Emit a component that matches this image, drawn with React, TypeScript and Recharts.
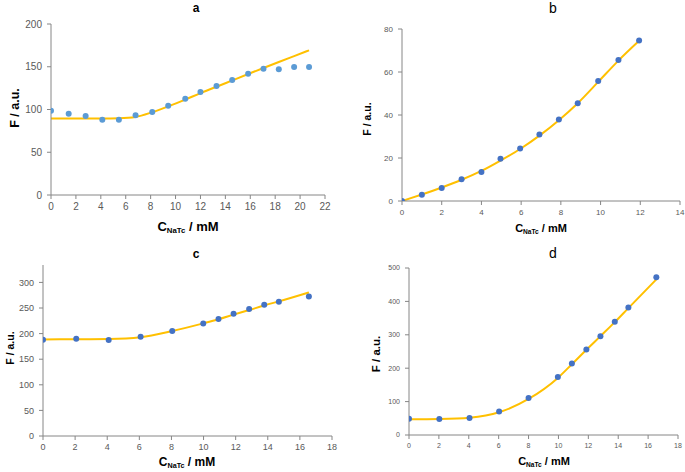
import React from "react";
import { ComposedChart, Scatter, Line, XAxis, YAxis } from "recharts";

// panel a
const aX = [0, 1.42, 2.78, 4.12, 5.45, 6.79, 8.13, 9.41, 10.78, 12.0, 13.29, 14.55, 15.83, 17.06, 18.29, 19.52, 20.72];
const aPoints = [98.6, 95.1, 92.4, 88.1, 88.1, 93.2, 97.1, 104.5, 112.7, 120.5, 127.5, 134.5, 141.9, 147.8, 147.0, 149.7, 149.7];
const aFit = [89.5, 89.5, 89.5, 89.5, 89.8, 91.3, 96.8, 103.6, 111.6, 119.2, 126.6, 134.0, 141.5, 148.6, 155.6, 162.5, 169.2];
const aXTicks = [0, 2, 4, 6, 8, 10, 12, 14, 16, 18, 20, 22];
const aYTicks = [0, 50, 100, 150, 200];

// panel b
const bX = [0, 1.0, 2.0, 3.0, 4.0, 4.96, 5.95, 6.92, 7.9, 8.85, 9.88, 10.9, 11.94];
const bPoints = [0, 2.95, 6.06, 10.1, 13.5, 19.7, 24.4, 30.9, 37.9, 45.5, 55.8, 65.6, 74.6];
const bFit = [0, 3.0, 6.3, 9.9, 14.0, 18.8, 24.2, 30.4, 37.6, 45.5, 55.4, 65.3, 74.5];
const bXTicks = [0, 2, 4, 6, 8, 10, 12, 14];
const bYTicks = [0, 20, 40, 60, 80];

// panel c
const cX = [0, 2.07, 4.09, 6.08, 8.05, 9.98, 10.93, 11.87, 12.84, 13.78, 14.69, 16.56];
const cPoints = [188.1, 190.0, 187.4, 193.9, 205.0, 219.9, 228.4, 238.8, 247.9, 256.4, 262.2, 272.7];
const cFit = [188.5, 189.0, 189.5, 193.0, 205.0, 220.0, 228.0, 237.0, 246.0, 255.0, 263.0, 280.5];
const cXTicks = [0, 2, 4, 6, 8, 10, 12, 14, 16, 18];
const cYTicks = [0, 50, 100, 150, 200, 250, 300];

// panel d
const dX = [0, 2.03, 4.05, 6.03, 8.0, 9.96, 10.9, 11.87, 12.81, 13.77, 14.68, 16.55];
const dPoints = [49, 48, 51, 70, 111, 174, 214, 256, 296, 339, 382, 472];
const dFit = [47, 48, 52, 68, 108, 171, 212, 255, 296, 338, 380, 466];
const dXTicks = [0, 2, 4, 6, 8, 10, 12, 14, 16, 18];
const dYTicks = [0, 100, 200, 300, 400, 500];

const FONT = "'Liberation Sans', Arial, sans-serif";
const AXIS = "#868686";
const TICK = "#595959";
const FIT = "#FFC000";

const zip = (xs: number[], ys: number[]) => xs.map((x, i) => ({ x, y: ys[i] }));

interface PanelProps {
  left: number;
  top: number;
  width: number;
  height: number;
  margin: { top: number; right: number; bottom: number };
  yWidth: number;
  xs: number[];
  points: number[];
  fit: number[];
  xTicks: number[];
  yTicks: number[];
  yMax: number;
  tickFont: number;
  dot: string;
}

function Panel(p: PanelProps) {
  const tick = { fill: TICK, fontSize: p.tickFont, fontFamily: FONT };
  return (
    <div style={{ position: "absolute", left: p.left, top: p.top }}>
      <ComposedChart
        width={p.width}
        height={p.height}
        margin={{ top: p.margin.top, right: p.margin.right, bottom: p.margin.bottom, left: 0 }}
      >
        <XAxis
          type="number"
          dataKey="x"
          domain={[p.xTicks[0], p.xTicks[p.xTicks.length - 1]]}
          ticks={p.xTicks}
          interval={0}
          height={20}
          stroke={AXIS}
          tickSize={4}
          tickMargin={4}
          tick={tick}
          allowDataOverflow
        />
        <YAxis
          type="number"
          dataKey="y"
          domain={[0, p.yMax]}
          ticks={p.yTicks}
          interval={0}
          width={p.yWidth}
          stroke={AXIS}
          tickSize={4}
          tickMargin={5}
          tick={tick}
          allowDataOverflow
        />
        <Line
          data={zip(p.xs, p.fit)}
          dataKey="y"
          type="monotone"
          stroke={FIT}
          strokeWidth={2}
          dot={false}
          activeDot={false}
          isAnimationActive={false}
        />
        <Scatter
          data={zip(p.xs, p.points)}
          dataKey="y"
          fill={p.dot}
          isAnimationActive={false}
          shape={(s: any) => <circle cx={s.cx} cy={s.cy} r={3} fill={p.dot} />}
        />
      </ComposedChart>
    </div>
  );
}

function Txt(props: {
  x: number;
  y: number;
  size: number;
  bold?: boolean;
  rotate?: boolean;
  children: React.ReactNode;
}) {
  return (
    <div
      style={{
        position: "absolute",
        left: props.x,
        top: props.y,
        transform: `translate(-50%, -50%)${props.rotate ? " rotate(-90deg)" : ""}`,
        fontFamily: FONT,
        fontSize: props.size,
        fontWeight: props.bold ? "bold" : "normal",
        color: "#000",
        whiteSpace: "nowrap",
        lineHeight: 1,
      }}
    >
      {props.children}
    </div>
  );
}

const XLabel = ({ x, y, size }: { x: number; y: number; size: number }) => (
  <Txt x={x} y={y} size={size} bold>
    C<span style={{ fontSize: size * 0.6, position: "relative", top: size * 0.18 }}>NaTc</span> / mM
  </Txt>
);

export default function App() {
  return (
    <div style={{ position: "absolute", left: 0, top: 0, width: 685, height: 472, background: "#fff", overflow: "hidden" }}>
      <Panel
        left={0} top={0} width={340} height={236}
        margin={{ top: 24, right: 15, bottom: 21 }} yWidth={51}
        xs={aX} points={aPoints} fit={aFit} xTicks={aXTicks} yTicks={aYTicks} yMax={200}
        tickFont={10} dot="#5B9BD5"
      />
      <Panel
        left={340} top={0} width={345} height={236}
        margin={{ top: 29, right: 5, bottom: 15 }} yWidth={62}
        xs={bX} points={bPoints} fit={bFit} xTicks={bXTicks} yTicks={bYTicks} yMax={80}
        tickFont={8} dot="#4472C4"
      />
      <Panel
        left={0} top={236} width={340} height={236}
        margin={{ top: 29, right: 8, bottom: 16 }} yWidth={43}
        xs={cX} points={cPoints} fit={cFit} xTicks={cXTicks} yTicks={cYTicks} yMax={334}
        tickFont={9} dot="#4472C4"
      />
      <Panel
        left={340} top={236} width={345} height={236}
        margin={{ top: 32, right: 7, bottom: 17 }} yWidth={69}
        xs={dX} points={dPoints} fit={dFit} xTicks={dXTicks} yTicks={dYTicks} yMax={500}
        tickFont={7} dot="#4472C4"
      />

      <Txt x={196} y={8} size={12} bold>a</Txt>
      <Txt x={553} y={8} size={14}>b</Txt>
      <Txt x={196} y={254} size={12} bold>c</Txt>
      <Txt x={553} y={253} size={14}>d</Txt>

      <Txt x={15} y={108} size={12.5} bold rotate>F / a.u.</Txt>
      <Txt x={367} y={119} size={10.5} bold rotate>F / a.u.</Txt>
      <Txt x={10} y={348} size={10.5} bold rotate>F / a.u.</Txt>
      <Txt x={377} y={354} size={11.5} bold rotate>F / a.u.</Txt>

      <XLabel x={188} y={226} size={13} />
      <XLabel x={541} y={228} size={11} />
      <XLabel x={187} y={462} size={12} />
      <XLabel x={544} y={461} size={11} />
    </div>
  );
}
